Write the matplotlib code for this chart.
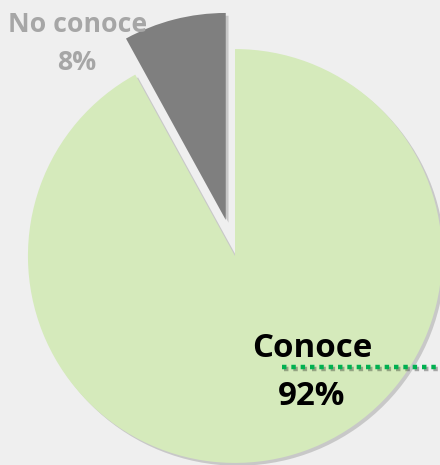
import matplotlib.pyplot as plt
import matplotlib.patheffects as pe

# data
labels = ['No conoce', 'Conoce']
values = [8, 92]
colors = ['#7F7F7F', '#D5EABB']
label_colors = ['#A6A6A6', '#000000']

bg = '#EFEFEF'
shadow = [pe.SimplePatchShadow(offset=(2, -2), shadow_rgbFace='#808080', alpha=0.35), pe.Normal()]

fig = plt.figure(figsize=(4.4, 4.65), dpi=100, facecolor=bg)
ax = fig.add_axes([0, 0, 1, 1])
ax.set_facecolor(bg)

# pie is drawn with radius 1, limits chosen so the pie sits where it does in the reference
wedges, _ = ax.pie(values, colors=colors, startangle=90, counterclock=True,
                   explode=[0.18, 0], radius=1, wedgeprops=dict(linewidth=0))
for w in wedges:
    w.set_path_effects(shadow)

ax.set_xlim(-1.135, 0.99)
ax.set_ylim(-1.01, 1.237)
ax.set_aspect('auto')
ax.axis('off')

# labels
font = dict(ha='center', va='baseline', fontweight='bold', family='Open Sans')
ax.text(-0.758, 1.082, labels[0], fontsize=19.2, color=label_colors[0], **font)
ax.text(-0.763, 0.899, f'{values[0]}%', fontsize=19.2, color=label_colors[0], **font)
ax.text(0.372, -0.488, labels[1], fontsize=23.8, color=label_colors[1], **font)
ax.text(0.372, -0.720, f'{values[1]}%', fontsize=23.8, color=label_colors[1], **font)

# dotted green leader line
ax.plot([0.227, 1.05], [-0.536, -0.536], color='#00B050', linewidth=3.2,
        dashes=(1, 1.1), dash_capstyle='butt', clip_on=False,
        path_effects=[pe.SimpleLineShadow(offset=(1.5, -1.5), alpha=0.3), pe.Normal()])

plt.savefig('out.png', dpi=100, facecolor=bg)
